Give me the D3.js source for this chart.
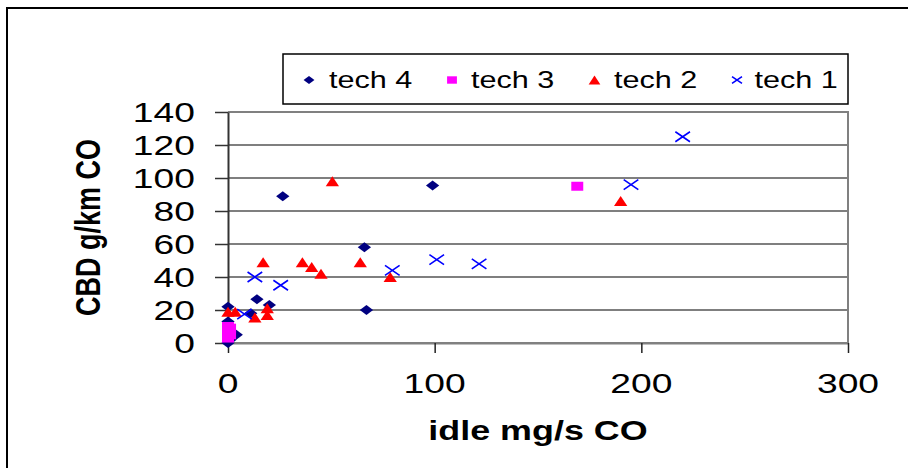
<!DOCTYPE html>
<html><head><meta charset="utf-8">
<script src="https://cdn.jsdelivr.net/npm/d3@7"></script>
<style>html,body{margin:0;padding:0;background:#fff;} svg{display:block;font-family:"Liberation Sans",Arial,sans-serif;}</style>
</head><body>
<svg id="c" width="908" height="468"></svg>
<script>
// ---- data ----
const seriesNames = ["tech 4", "tech 3", "tech 2", "tech 1"];
const tech4X = [0, 4, 0, 0, 1, 11, 14, 20, 26.5, 66, 67, 99];
const tech4Y = [0, 5, 13, 22, 2, 18, 26.5, 23, 89, 58, 20, 95.5];
const tech3X = [0, 1, 0, 1, 0, 169];
const tech3Y = [3, 5, 7, 9, 10, 95];
const tech2X = [0, 3.5, 13, 19, 19, 17, 36, 40.5, 45, 50.5, 64, 78.5, 190];
const tech2Y = [19, 19, 15.5, 21, 17, 49, 49, 46, 42, 98, 49, 40, 86];
const tech1X = [8, 13, 25.5, 79.5, 101, 121.5, 195, 220];
const tech1Y = [17.5, 40, 35, 44, 50.5, 48, 96, 125];
const xTicks = [0, 100, 200, 300];
const yTicks = [0, 20, 40, 60, 80, 100, 120, 140];
const xTitle = "idle mg/s CO";
const yTitle = "CBD g/km CO";

// ---- styling ----
const SX = 1.33; // horizontal stretch of the original picture
const colors = {"tech 4": "#000080", "tech 3": "#FF00FF", "tech 2": "#FF0000", "tech 1": "#0000FF"};

const diamond = {draw(c, r){ c.moveTo(0,-r); c.lineTo(r,0); c.lineTo(0,r); c.lineTo(-r,0); c.closePath(); }};
const square = {draw(c, r){ c.rect(-r,-r,2*r,2*r); }};
const triangle = {draw(c, r){ c.moveTo(0,-r); c.lineTo(r,r); c.lineTo(-r,r); c.closePath(); }};
const cross = {draw(c, r){ c.moveTo(-r*1.1,-r); c.lineTo(r*1.1,r); c.moveTo(-r*1.1,r); c.lineTo(r*1.1,-r); }};
const shapes = {"tech 4": diamond, "tech 3": square, "tech 2": triangle, "tech 1": cross};
const sizes = {"tech 4": 5, "tech 3": 4.5, "tech 2": 5, "tech 1": 5};
const legendSizes = {"tech 4": 4.1, "tech 3": 3.7, "tech 2": 4.4, "tech 1": 3.4};

const series = [
  {name: "tech 4", xs: tech4X, ys: tech4Y},
  {name: "tech 3", xs: tech3X, ys: tech3Y},
  {name: "tech 2", xs: tech2X, ys: tech2Y},
  {name: "tech 1", xs: tech1X, ys: tech1Y}
];

const svg = d3.select("#c");
const x = d3.scaleLinear().domain([0, 300]).range([228, 848]);
const y = d3.scaleLinear().domain([0, 140]).range([343, 112]);

function stext(parent, px, py, str, o) {
  const g = parent.append("g").attr("transform", `translate(${px},${py}) scale(${SX},1)` + (o.rotate ? ` rotate(${o.rotate})` : ""));
  g.append("text").attr("text-anchor", o.anchor || "start")
    .attr("font-size", o.size).attr("font-weight", o.weight || "normal")
    .attr("fill", "#000").text(str);
}
function marker(parent, name, px, py, r) {
  const isCross = name === "tech 1";
  parent.append("path")
    .attr("transform", `translate(${px},${py}) scale(${SX},1)`)
    .attr("d", d3.symbol().type(shapes[name]).size(r)())
    .attr("fill", isCross ? "none" : colors[name])
    .attr("stroke", isCross ? colors[name] : "none")
    .attr("stroke-width", isCross ? 1.6 : 0)
    .attr("vector-effect", "non-scaling-stroke");
}

// outer frame
svg.append("path").attr("d", "M7,468 L7,8 L908,8").attr("fill", "none").attr("stroke", "#000").attr("stroke-width", 2);

// gridlines
svg.append("g").selectAll("line").data(yTicks.filter(v => v > 0 && v < 140)).join("line")
  .attr("x1", x(0)).attr("x2", x(300)).attr("y1", d => y(d)).attr("y2", d => y(d))
  .attr("stroke", "#000").attr("stroke-width", 1.2);

// plot area border (gray)
svg.append("path").attr("d", `M${x(0)},${y(140)} L${x(300)},${y(140)} L${x(300)},${y(0)} L${x(0)},${y(0)}`)
  .attr("fill", "none").attr("stroke", "#808080").attr("stroke-width", 2);

// y axis
const yAxis = svg.append("g").attr("transform", `translate(${x(0)},0)`)
  .call(d3.axisLeft(y).tickValues(yTicks).tickSize(13).tickSizeOuter(0).tickFormat(d3.format("d")));
yAxis.select(".domain").attr("stroke", "#333").attr("stroke-width", 2);
yAxis.selectAll(".tick line").attr("stroke", "#333").attr("stroke-width", 1.5);
yAxis.selectAll(".tick text").remove();
yTicks.forEach(v => stext(svg, 195, y(v) + 10, String(v), {anchor: "end", size: 28}));

// x axis
const xAxis = svg.append("g").attr("transform", `translate(0,${y(0)})`)
  .call(d3.axisBottom(x).tickValues(xTicks).tickSize(10).tickSizeOuter(0));
xAxis.select(".domain").attr("stroke", "#808080").attr("stroke-width", 2);
xAxis.selectAll(".tick line").attr("stroke", "#222").attr("stroke-width", 1.5);
xAxis.selectAll(".tick text").remove();
xTicks.forEach(v => stext(svg, x(v), 393, String(v), {anchor: "middle", size: 28}));

// titles
stext(svg, (x(0) + x(300)) / 2, 440, xTitle, {anchor: "middle", size: 27, weight: "bold"});
stext(svg, 100, (y(0) + y(140)) / 2, yTitle, {anchor: "middle", size: 27, weight: "bold", rotate: -90});

// points
const pts = svg.append("g");
series.forEach(s => {
  s.xs.forEach((xv, i) => marker(pts, s.name, x(xv), y(s.ys[i]), sizes[s.name]));
});

// legend
const lg = svg.append("g");
lg.append("rect").attr("x", 283).attr("y", 54).attr("width", 565).attr("height", 50)
  .attr("fill", "#fff").attr("stroke", "#000").attr("stroke-width", 1.5);
const legMX = [309, 452, 594.5, 737];
const legTX = [329, 471, 614, 754.5];
seriesNames.forEach((n, i) => {
  marker(lg, n, legMX[i], 80, legendSizes[n]);
  stext(lg, legTX[i], 88, n, {anchor: "start", size: 23});
});
</script>
</body></html>
